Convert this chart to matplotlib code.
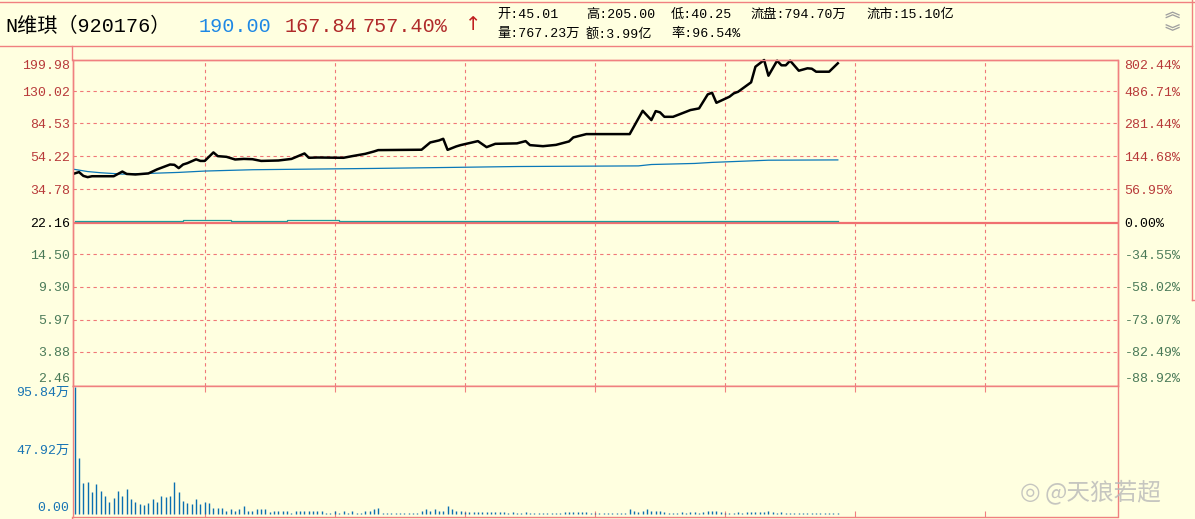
import matplotlib
matplotlib.use("Agg")
import matplotlib.pyplot as plt
from matplotlib.ticker import NullLocator, NullFormatter

W, H = 1195, 519
BG = "#FFFFE0"
PINK = "#F08080"
UP_RED = "#B83A3A"
DN_GREEN = "#4A7A58"
VOL_BLUE = "#0A6EB0"
MONO = ["Liberation Mono", "Noto Sans CJK SC"]

prev_close = 22.16

# price line vertices: minute since 9:30, price
price_min = [0, 1, 2, 3, 4, 9, 11, 12, 14, 17, 19, 22, 23, 24, 25, 26, 28, 29, 30,
             32, 33, 35, 37, 39, 41, 43, 47, 50, 53, 54, 56, 62, 64, 67, 69, 70, 80,
             82, 84, 85, 86, 88, 89, 93, 95, 97, 102, 104, 105, 108, 111, 114, 115,
             118, 128, 131, 133, 134, 135, 136, 138, 141, 142, 144, 146, 147, 148,
             151, 152, 153, 156, 157, 159, 160, 162, 163, 164, 165, 167, 169, 170,
             171, 174, 176]
price_val = [43.0, 43.8, 41.6, 40.9, 41.4, 41.4, 44.1, 42.7, 42.4, 43.0, 45.4, 48.5,
             48.3, 46.2, 48.5, 49.4, 52.0, 50.9, 50.9, 57.1, 54.3, 53.8, 51.9, 52.3,
             52.1, 50.9, 51.2, 52.3, 56.3, 53.1, 53.3, 53.1, 54.3, 56.0, 57.8, 58.9,
             59.2, 65.3, 67.1, 68.6, 59.1, 61.9, 63.0, 66.5, 61.3, 64.1, 64.5, 66.5,
             63.0, 62.1, 63.2, 66.2, 69.9, 73.1, 73.1, 100.1, 88.3, 99.7, 98.0, 92.3,
             92.3, 98.8, 101.1, 103.4, 124.9, 127.7, 111.5, 121.0, 126.6, 129.4,
             147.0, 181.4, 198.6, 160.7, 196.8, 184.9, 184.9, 196.8, 171.9, 177.6,
             176.6, 169.6, 169.6, 190.0]

# average price line vertices
avg_min = [0, 3, 6, 11, 17, 24, 30, 41, 69, 86, 102, 130, 133, 143, 147, 160, 176]
avg_val = [45.4, 44.1, 43.4, 42.6, 43.0, 43.6, 44.4, 45.2, 46.0, 46.6, 47.2, 47.6,
           48.5, 49.2, 49.9, 51.4, 51.6]

# index overlay, % change (steps)
idx_min = [0, 25, 36, 49, 61, 176]
idx_pct = [1.8, 3.0, 1.8, 3.0, 1.8, 1.8]

# volume per minute (万)
volume = [95.84, 42.4, 23.3, 24.1, 16.5, 22.3, 17.2, 13.2, 8.6, 11.7,
          17.2, 13.2, 18.8, 11.1, 8.6, 7.1, 6.6, 7.9, 10.9, 8.6,
          13.2, 12.7, 13.2, 23.8, 16.2, 9.7, 7.9, 7.1, 10.9, 7.3,
          8.6, 7.9, 4.8, 4.1, 4.1, 2.5, 3.3, 2.5, 3.5, 6.3,
          2.5, 1.8, 3.5, 3.5, 3.5, 1.5, 1.8, 1.8, 2.5, 1.8,
          1.0, 1.8, 1.8, 2.5, 1.8, 1.8, 1.8, 1.8, 1.0, 1.0,
          1.8, 1.0, 2.5, 1.0, 1.8, 1.0, 1.0, 1.8, 2.5, 3.3,
          4.1, 0.7, 0.7, 0.7, 0.7, 0.7, 0.7, 0.7, 0.7, 0.7,
          2.0, 3.3, 2.5, 3.3, 2.5, 2.5, 6.3, 3.3, 2.0, 2.0,
          1.4, 1.4, 1.4, 1.4, 1.4, 1.4, 1.4, 1.4, 1.4, 1.4,
          0.7, 1.4, 0.7, 0.7, 1.4, 0.7, 0.7, 0.7, 0.7, 0.7,
          0.7, 0.7, 0.7, 1.4, 1.4, 1.4, 1.4, 1.4, 1.4, 0.7,
          0.7, 0.7, 0.7, 0.7, 0.7, 0.7, 0.7, 0.7, 4.0, 2.0,
          1.4, 2.5, 4.0, 2.0, 2.0, 2.5, 1.4, 0.7, 0.7, 0.7,
          1.4, 0.7, 1.4, 1.4, 0.7, 1.4, 2.0, 2.5, 2.0, 1.4,
          0.7, 0.7, 0.7, 1.4, 0.7, 1.4, 1.4, 1.4, 1.4, 1.4,
          2.0, 1.4, 0.7, 1.4, 0.7, 0.7, 0.7, 0.7, 0.7, 0.7,
          0.7, 0.7, 0.7, 0.7, 0.7, 0.7, 0.7]

price_ticks = [199.98, 130.02, 84.53, 54.22, 34.78, 22.16, 14.50, 9.30, 5.97, 3.88, 2.46]
price_labels = ["199.98", "130.02", "84.53", "54.22", "34.78", "22.16",
                "14.50", "9.30", "5.97", "3.88", "2.46"]
pct_labels = ["802.44%", "486.71%", "281.44%", "144.68%", "56.95%", "0.00%",
              "-34.55%", "-58.02%", "-73.07%", "-82.49%", "-88.92%"]
vol_ticks = [0, 47.92, 95.84]
vol_labels = ["0.00", "47.92万", "95.84万"]


def box(x0, y0, x1, y1):
    return [x0 / W, 1 - y1 / H, (x1 - x0) / W, (y1 - y0) / H]


def tick_color(v):
    if v > prev_close:
        return UP_RED
    if v < prev_close:
        return DN_GREEN
    return "black"


def style_ticklabels(labels):
    n = len(labels)
    for i, (lab, v) in enumerate(zip(labels, price_ticks)):
        lab.set_color(tick_color(v))
        lab.set_fontfamily(MONO)
        lab.set_fontsize(9.5)
        if i == 0:
            lab.set_verticalalignment("top")
        elif i == n - 1:
            lab.set_verticalalignment("bottom")


fig = plt.figure(figsize=(W / 100, H / 100), dpi=100, facecolor=BG)

# ---- price panel
ax = fig.add_axes(box(72.5, 59.5, 1117.5, 385.5), facecolor=BG)
ax.set_yscale("log")
ax.set_ylim(2.46, 199.98)
ax.set_xlim(-0.5, 240.5)
ax.set_xticks([])
ax.yaxis.set_minor_locator(NullLocator())
ax.yaxis.set_minor_formatter(NullFormatter())
ax.set_yticks(price_ticks)
ax.set_yticklabels(price_labels)
ax.tick_params(axis="y", length=0, pad=2)
style_ticklabels(ax.get_yticklabels())

ax_r = ax.twinx()
ax_r.set_yscale("log")
ax_r.set_ylim(2.46, 199.98)
ax_r.yaxis.set_minor_locator(NullLocator())
ax_r.yaxis.set_minor_formatter(NullFormatter())
ax_r.set_yticks(price_ticks)
ax_r.set_yticklabels(pct_labels)
ax_r.tick_params(axis="y", length=0, pad=5)
style_ticklabels(ax_r.get_yticklabels())

for a in (ax, ax_r):
    for s in a.spines.values():
        s.set_color(PINK)
        s.set_linewidth(1.0)

dash = (0, (3.0, 3.0))
for t in price_ticks[1:-1]:
    if t == prev_close:
        ax.axhline(t, color="#F07070", lw=1.6, zorder=1)
    else:
        ax.axhline(t, color="#F07878", lw=0.8, ls=dash, zorder=1)
for m in range(30, 240, 30):
    ax.axvline(m, color="#F07878", lw=0.8, ls=dash, zorder=1)

ax.plot(idx_min, [prev_close * (1 + p / 100) for p in idx_pct],
        color="#1E9A9A", lw=0.9, drawstyle="steps-post", zorder=2)
ax.plot(avg_min, avg_val, color="#0A78B8", lw=0.9, zorder=3)
ax.plot(price_min, price_val, color="black", lw=1.8, zorder=4, clip_on=False)

# ---- volume panel
ax_v = fig.add_axes(box(72.5, 385.5, 1117.5, 516.5), facecolor=BG)
ax_v.set_xlim(-0.5, 240.5)
ax_v.set_ylim(-2.0, 97.0)
ax_v.vlines(range(len(volume)), 0, volume, color=VOL_BLUE, lw=1.0)
ax_v.set_xticks(range(30, 240, 30))
ax_v.tick_params(axis="x", direction="in", top=True, bottom=True, length=4,
                 color=PINK, labelbottom=False)
ax_v.set_yticks(vol_ticks)
ax_v.set_yticklabels(vol_labels)
ax_v.tick_params(axis="y", length=0, pad=2)
for lab, va in zip(ax_v.get_yticklabels(), ["bottom", "center", "top"]):
    lab.set_color("#1874B4")
    lab.set_fontfamily(MONO)
    lab.set_fontsize(9.5)
    lab.set_verticalalignment(va)
for s in ax_v.spines.values():
    s.set_color(PINK)
    s.set_linewidth(1.0)

# ---- header / frame overlay (pixel coords)
ov = fig.add_axes([0, 0, 1, 1], zorder=5)
ov.set_xlim(0, W)
ov.set_ylim(H, 0)
ov.axis("off")
ov.patch.set_alpha(0)

ov.plot([0, W], [2, 2], color=PINK, lw=1.0)
ov.plot([0, 1192], [46, 46], color=PINK, lw=1.0)
ov.plot([1192, 1192], [0, 300], color=PINK, lw=1.0)
ov.plot([1192, W], [300, 300], color=PINK, lw=1.0)
ov.plot([72.5, 72.5], [46, 59.5], color=PINK, lw=1.0)
ov.plot([72.5, 72.5], [516.5, H], color=PINK, lw=1.0)

ov.text(5, 26, "N维琪（920176）", fontsize=14.5, family=MONO, color="black", va="center")
ov.text(199, 26, "190.00", fontsize=14.5, family=MONO, color="#1E88E5", va="center")
ov.text(285, 26, "167.84", fontsize=14.5, family=MONO, color="#B02A2A", va="center")
ov.text(363, 26, "757.40%", fontsize=14.5, family=MONO, color="#B02A2A", va="center")
ov.text(465, 25, "↑", fontsize=14, family=["DejaVu Sans"], color="#C02020", va="center")

row1 = [(497, "开:45.01"), (586, "高:205.00"), (671, "低:40.25"),
        (750, "流盘:794.70万"), (866, "流市:15.10亿")]
row2 = [(497, "量:767.23万"), (586, "额:3.99亿"), (671, "率:96.54%")]
for x, s in row1:
    ov.text(x, 15, s, fontsize=9.5, family=MONO, color="black", va="center")
for x, s in row2:
    ov.text(x, 34, s, fontsize=9.5, family=MONO, color="black", va="center")

ov.text(1172, 12, "︽", fontsize=11, family=["Noto Sans CJK SC"], color="#A0A0A0",
        ha="center", va="center", fontweight="bold")
ov.text(1172, 31, "︾", fontsize=11, family=["Noto Sans CJK SC"], color="#A0A0A0",
        ha="center", va="center", fontweight="bold")

# watermark
ov.text(1040, 492, "◎", fontsize=17, family=["DejaVu Sans"], color="#B8B8B8",
        va="center", ha="right", alpha=0.8)
ov.text(1045, 492, "@天狼若超", fontsize=17, family=["Noto Sans CJK SC"],
        color="#B8B8B8", va="center", alpha=0.8)

fig.savefig("out.png", dpi=100, facecolor=BG)
